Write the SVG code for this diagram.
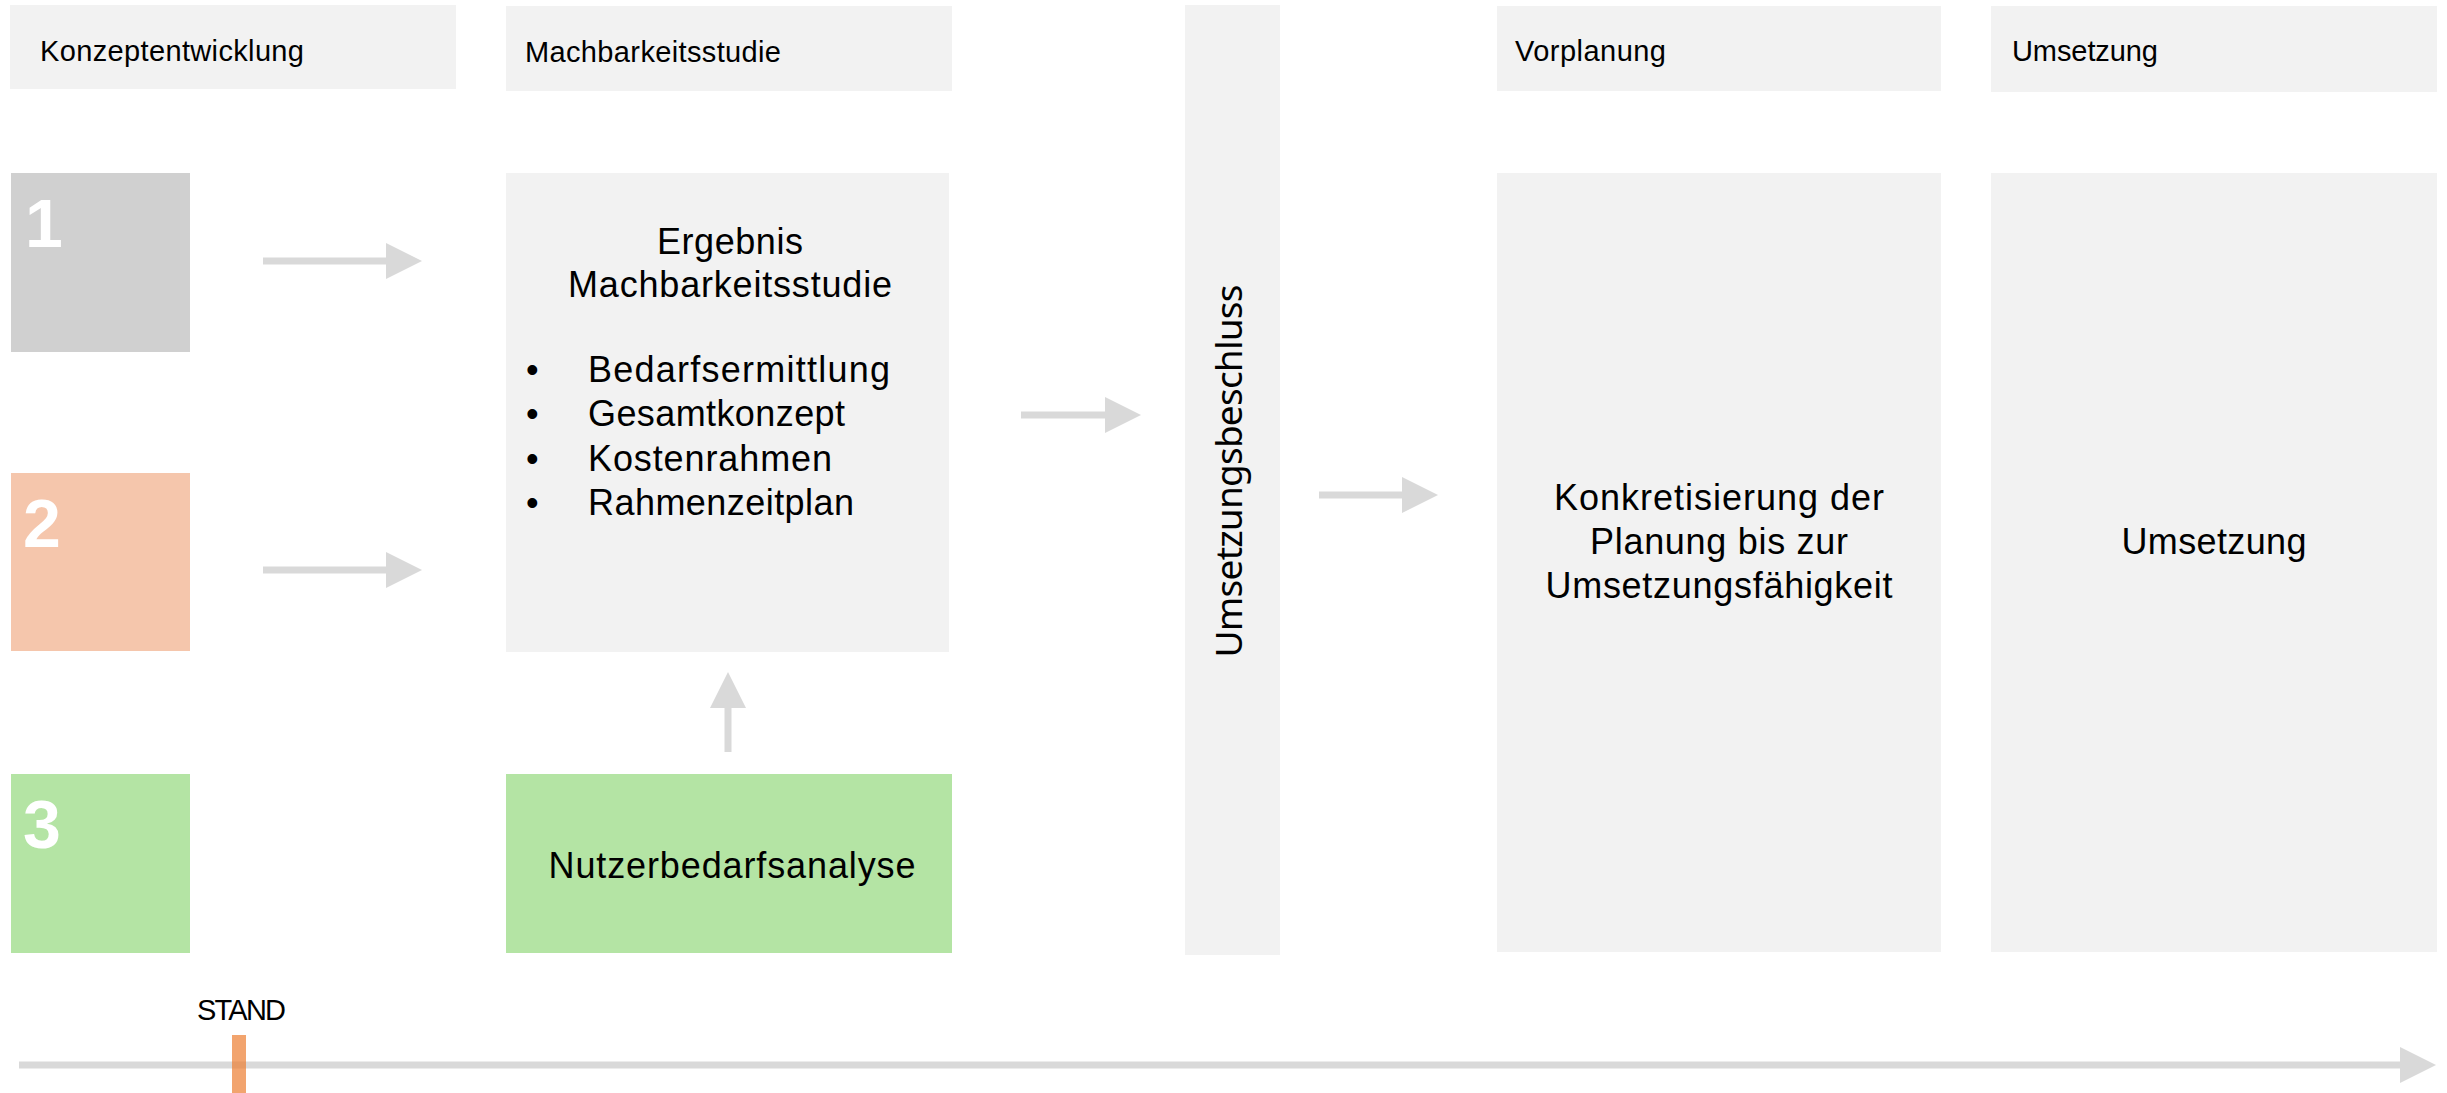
<svg xmlns="http://www.w3.org/2000/svg" width="2447" height="1093" viewBox="0 0 2447 1093">
<style>
.bg{fill:#F2F2F2}
.hd{font-family:"Liberation Sans",Arial,sans-serif;font-size:29px;fill:#000}
.tx{font-family:"Liberation Sans",Arial,sans-serif;font-size:36px;fill:#000}
.num{font-family:"Liberation Sans",Arial,sans-serif;font-size:68px;font-weight:bold;fill:#fff}
.vt{font-family:"Noto Sans","Open Sans",sans-serif;font-size:37px;fill:#000}
.conn{stroke:#D9D9D9;stroke-width:7;fill:none}
</style>
<defs>
<marker id="ah" viewBox="0 0 36 36" markerWidth="36" markerHeight="36" refX="0" refY="18" orient="auto" markerUnits="userSpaceOnUse">
<path d="M0,0 L36,18 L0,36 Z" fill="#D9D9D9"/>
</marker>
</defs>
<rect width="2447" height="1093" fill="#fff"/>

<g id="header-konzept"><rect class="bg" x="10" y="5" width="446" height="84"/><text class="hd" x="40" y="61" textLength="264">Konzeptentwicklung</text></g>
<g id="header-machbarkeit"><rect class="bg" x="506" y="6" width="446" height="85"/><text class="hd" x="525" y="62" textLength="256">Machbarkeitsstudie</text></g>
<g id="header-vorplanung"><rect class="bg" x="1497" y="6" width="444" height="85"/><text class="hd" x="1515" y="61" textLength="151">Vorplanung</text></g>
<g id="header-umsetzung"><rect class="bg" x="1991" y="6" width="446" height="86"/><text class="hd" x="2012" y="61" textLength="146">Umsetzung</text></g>

<g id="box1"><rect x="11" y="173" width="179" height="179" fill="#D0D0D0"/><text class="num" x="25" y="247">1</text></g>
<g id="box2"><rect x="11" y="473" width="179" height="178" fill="#F5C6AC"/><text class="num" x="23" y="547">2</text></g>
<g id="box3"><rect x="11" y="774" width="179" height="179" fill="#B4E4A4"/><text class="num" x="23" y="848">3</text></g>

<g id="ergebnis">
<rect class="bg" x="506" y="173" width="443" height="479"/>
<text class="tx" x="730" y="254" text-anchor="middle" textLength="146">Ergebnis</text>
<text class="tx" x="730" y="297" text-anchor="middle" textLength="324">Machbarkeitsstudie</text>
<text class="tx" x="526" y="382">•</text><text class="tx" x="588" y="382" textLength="302">Bedarfsermittlung</text>
<text class="tx" x="526" y="426">•</text><text class="tx" x="588" y="426" textLength="257">Gesamtkonzept</text>
<text class="tx" x="526" y="471">•</text><text class="tx" x="588" y="471" textLength="244">Kostenrahmen</text>
<text class="tx" x="526" y="515">•</text><text class="tx" x="588" y="515" textLength="266">Rahmenzeitplan</text>
</g>

<g id="nutzer"><rect x="506" y="774" width="446" height="179" fill="#B4E4A4"/><text class="tx" x="732" y="878" text-anchor="middle" textLength="367">Nutzerbedarfsanalyse</text></g>

<g id="beschluss"><rect class="bg" x="1185" y="5" width="95" height="950"/><text class="vt" transform="translate(1242,471) rotate(-90)" x="0" y="0" text-anchor="middle" textLength="373">Umsetzungsbeschluss</text></g>

<g id="vorplanung"><rect class="bg" x="1497" y="173" width="444" height="779"/>
<text class="tx" x="1719" y="510" text-anchor="middle" textLength="330">Konkretisierung der</text>
<text class="tx" x="1719" y="554" text-anchor="middle" textLength="258">Planung bis zur</text>
<text class="tx" x="1719" y="598" text-anchor="middle" textLength="347">Umsetzungsfähigkeit</text>
</g>

<g id="umsetzung"><rect class="bg" x="1991" y="173" width="446" height="779"/><text class="tx" x="2214" y="554" text-anchor="middle" textLength="185">Umsetzung</text></g>

<g id="stand"><text class="hd" x="197" y="1020" textLength="89">STAND</text></g>

<g id="connectors">
<line class="conn" x1="263" y1="261" x2="386" y2="261" marker-end="url(#ah)"/>
<line class="conn" x1="263" y1="570" x2="386" y2="570" marker-end="url(#ah)"/>
<line class="conn" x1="728" y1="752" x2="728" y2="708" marker-end="url(#ah)"/>
<line class="conn" x1="1021" y1="415" x2="1105" y2="415" marker-end="url(#ah)"/>
<line class="conn" x1="1319" y1="495" x2="1402" y2="495" marker-end="url(#ah)"/>
<line class="conn" x1="19" y1="1065" x2="2400" y2="1065" marker-end="url(#ah)"/>
</g>
<g id="stand-marker"><rect x="232" y="1035" width="14" height="58" fill="#ED7D31" fill-opacity="0.7"/></g>
</svg>
